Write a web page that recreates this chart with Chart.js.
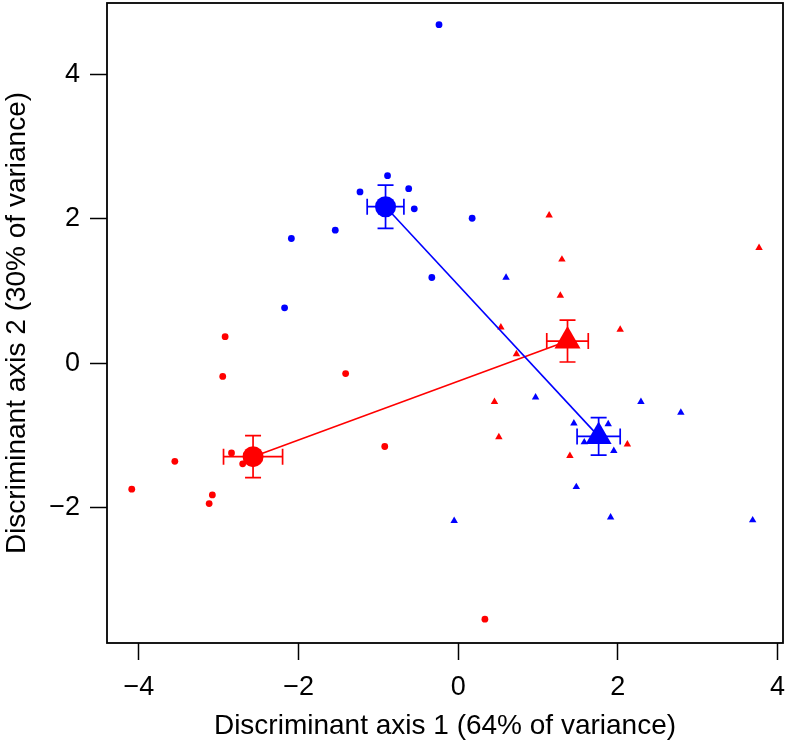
<!DOCTYPE html>
<html>
<head>
<meta charset="utf-8">
<script src="https://cdn.jsdelivr.net/npm/chart.js@4"></script>
<style>
  body { margin: 0; background: #fff; }
</style>
</head>
<body>
<canvas id="chart" width="786" height="744"></canvas>
<script>
// individual scores, by group
const blueCircleX = [-0.24, -0.885, -1.23, -0.62, -0.55, -1.54, -2.09, -0.33, -2.175, 0.175];
const blueCircleY = [4.69, 2.60, 2.375, 2.42, 2.14, 1.845, 1.73, 1.19, 0.77, 2.01];
const blueTriX = [0.60, 0.97, 2.29, 2.79, 1.45, 1.88, 1.58, 1.95, 1.48, -0.05, 1.91, 3.69];
const blueTriY = [1.19, -0.47, -0.53, -0.68, -0.83, -0.84, -1.09, -1.21, -1.71, -2.18, -2.13, -2.17];
const redCircleX = [-2.92, -2.95, -1.41, -0.92, -3.55, -4.09, -3.08, -3.12, -2.84, -2.70, 0.335];
const redCircleY = [0.37, -0.18, -0.14, -1.15, -1.355, -1.74, -1.82, -1.94, -1.24, -1.39, -3.54];
const redTriX = [1.14, 1.30, 1.28, 3.77, 0.535, 2.03, 0.73, 0.455, 0.51, 1.40, 2.12];
const redTriY = [2.05, 1.44, 0.94, 1.60, 0.50, 0.47, 0.13, -0.53, -1.02, -1.28, -1.12];

// group means and their error bars: blue circle, blue triangle, red circle, red triangle
const meanX = [-0.91, 1.76, -2.57, 1.37];
const meanY = [2.17, -1.01, -1.29, 0.31];
const errX = [0.23, 0.27, 0.37, 0.26];
const errY = [0.30, 0.26, 0.29, 0.29];

const xTicks = [-4, -2, 0, 2, 4];
const yTicks = [-2, 0, 2, 4];

const BLUE = '#0000ff';
const RED = '#ff0000';
const FONT = "'Liberation Sans', Arial, Helvetica, sans-serif";
const barColors = [BLUE, BLUE, RED, RED];

const pts = (xs, ys) => xs.map((v, i) => ({ x: v, y: ys[i] }));
const fmt = v => (v < 0 ? '\u2212' + Math.abs(v) : String(v));

const boxAndBars = {
    id: 'boxAndBars',
    afterDatasetsDraw(chart) {
        const { ctx, chartArea: a, scales: { x, y } } = chart;
        ctx.save();
        ctx.lineWidth = 1.7;
        for (let i = 0; i < meanX.length; i++) {
            const cx = x.getPixelForValue(meanX[i]);
            const cy = y.getPixelForValue(meanY[i]);
            const x0 = x.getPixelForValue(meanX[i] - errX[i]);
            const x1 = x.getPixelForValue(meanX[i] + errX[i]);
            const y0 = y.getPixelForValue(meanY[i] - errY[i]);
            const y1 = y.getPixelForValue(meanY[i] + errY[i]);
            const cap = 8;
            ctx.strokeStyle = barColors[i];
            ctx.beginPath();
            ctx.moveTo(x0, cy); ctx.lineTo(x1, cy);
            ctx.moveTo(x0, cy - cap); ctx.lineTo(x0, cy + cap);
            ctx.moveTo(x1, cy - cap); ctx.lineTo(x1, cy + cap);
            ctx.moveTo(cx, y0); ctx.lineTo(cx, y1);
            ctx.moveTo(cx - cap, y0); ctx.lineTo(cx + cap, y0);
            ctx.moveTo(cx - cap, y1); ctx.lineTo(cx + cap, y1);
            ctx.stroke();
        }
        ctx.strokeStyle = '#000';
        ctx.lineWidth = 1.8;
        ctx.strokeRect(a.left, a.top, a.right - a.left, a.bottom - a.top);
        ctx.restore();
    }
};

const meanLine = (i, j, color) => ({
    type: 'line',
    data: [{ x: meanX[i], y: meanY[i] }, { x: meanX[j], y: meanY[j] }],
    showLine: true,
    borderColor: color,
    borderWidth: 1.6,
    pointStyle: ['circle', 'triangle'],
    pointRadius: [10.5, 15],
    pointBackgroundColor: color,
    pointBorderColor: color,
    pointBorderWidth: 0
});

const dots = (data, color, style, r) => ({
    type: 'scatter',
    data: data,
    pointStyle: style,
    pointRadius: r,
    pointBackgroundColor: color,
    pointBorderColor: color,
    pointBorderWidth: 0
});

const noPad = s => { s.paddingTop = 0; s.paddingBottom = 0; s.paddingLeft = 0; s.paddingRight = 0; };

const axisCommon = {
    grid: { drawOnChartArea: false, drawTicks: true, tickLength: 17, tickWidth: 1.5, tickColor: '#000' },
    border: { display: false }
};

new Chart(document.getElementById('chart').getContext('2d'), {
    type: 'scatter',
    data: {
        datasets: [
            meanLine(0, 1, BLUE),
            meanLine(2, 3, RED),
            dots(pts(blueCircleX, blueCircleY), BLUE, 'circle', 3.4),
            dots(pts(blueTriX, blueTriY), BLUE, 'triangle', 4.3),
            dots(pts(redCircleX, redCircleY), RED, 'circle', 3.4),
            dots(pts(redTriX, redTriY), RED, 'triangle', 4.3)
        ]
    },
    options: {
        responsive: false,
        animation: false,
        layout: { autoPadding: false, padding: { top: 3, right: 3, left: 0, bottom: 0 } },
        plugins: { legend: { display: false }, tooltip: { enabled: false } },
        scales: {
            x: {
                ...axisCommon,
                type: 'linear',
                min: -4.40,
                max: 4.07,
                afterBuildTicks: s => { s.ticks = xTicks.map(v => ({ value: v })); },
                afterFit: s => { s.height = 101; noPad(s); },
                ticks: { callback: fmt, color: '#000', padding: 11, maxRotation: 0, autoSkip: false,
                         font: { family: FONT, size: 27 } },
                title: { display: true, text: 'Discriminant axis 1 (64% of variance)', color: '#000',
                         font: { family: FONT, size: 28 }, padding: { top: 0, bottom: 1 } }
            },
            y: {
                ...axisCommon,
                type: 'linear',
                min: -3.87,
                max: 4.99,
                afterBuildTicks: s => { s.ticks = yTicks.map(v => ({ value: v })); },
                afterFit: s => { s.width = 107; noPad(s); },
                ticks: { callback: fmt, color: '#000', padding: 10, autoSkip: false,
                         font: { family: FONT, size: 27 } },
                title: { display: true, text: 'Discriminant axis 2 (30% of variance)', color: '#000',
                         font: { family: FONT, size: 28 }, padding: { top: 0, bottom: 0 } }
            }
        }
    },
    plugins: [boxAndBars]
});
</script>
</body>
</html>
